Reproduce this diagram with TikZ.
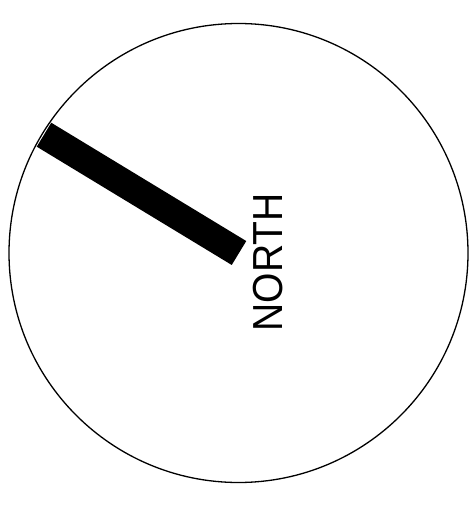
\documentclass[tikz,border=0pt]{standalone}
\usepackage{fontspec}
\setmainfont{Liberation Sans}
\begin{document}
\begin{tikzpicture}[x=1pt,y=-1pt,
  dialstyle/.style={circle,draw=black,line width=1.3pt,minimum size=459pt,inner sep=0pt},
  needlestyle/.style={line width=28pt,line cap=butt,black},
  labelstyle/.style={rotate=90,inner sep=0pt,font=\fontsize{42pt}{42pt}\selectfont}]
\useasboundingbox (0,0) rectangle (474,511);
\node[dialstyle] (dial) at (238.5,253) {};
\coordinate (hub) at (239,253);
\coordinate (tip) at (44,134.7);
\draw[needlestyle] (hub) -- (tip);
\node[labelstyle] (lbl) at (268.3,262.5) {\scalebox{0.93}[1]{NORTH}};
\end{tikzpicture}
\end{document}
